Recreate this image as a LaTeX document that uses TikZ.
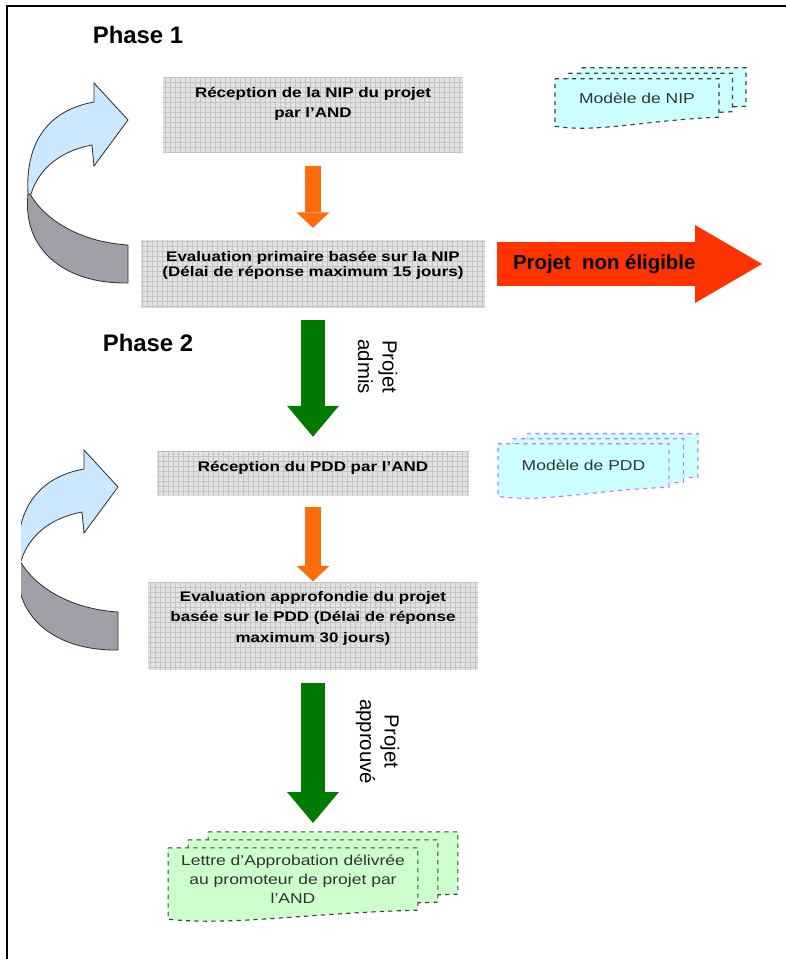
\documentclass[tikz,border=0pt]{standalone}
\usepackage{fontspec}
\setmainfont{Liberation Sans}
\newfontfamily\etirefont[FakeStretch=1.22]{Liberation Sans}
\usetikzlibrary{arrows.meta,calc,backgrounds}

\definecolor{grille}{RGB}{196,196,196}
\definecolor{fondgris}{RGB}{226,226,226}
\definecolor{orangeF}{RGB}{255,108,12}
\definecolor{vertF}{RGB}{0,122,0}
\definecolor{rougeF}{RGB}{255,51,0}
\definecolor{bleuC}{RGB}{204,232,255}
\definecolor{grisB}{RGB}{160,160,168}
\definecolor{cyanC}{RGB}{204,255,255}
\definecolor{vertC}{RGB}{204,255,204}
\definecolor{violetP}{RGB}{200,120,255}

\tikzset{
    phase/.style={font=\bfseries\fontsize{17}{20}\selectfont},
    etape/.style={fill=fondgris, align=center, inner sep=0pt,
        font=\etirefont\bfseries\fontsize{9.9}{14.5}\selectfont,
        path picture={\draw[grille, line width=0.3pt, step=3.55pt]
            (path picture bounding box.south west) grid (path picture bounding box.north east);}},
    modele/.style={align=center, inner sep=0pt, text=black!80,
        font=\etirefont\fontsize{10.2}{13.5}\selectfont},
    libelle/.style={align=center, font=\fontsize{14.5}{17.5}\selectfont},
    boucle/.style={draw=black!80, line width=0.6pt},
    fleche orange/.style={draw=orangeF, line width=12pt,
        -{Triangle[width=23.4pt, length=11pt, line width=0pt]}},
    fleche verte/.style={draw=vertF, line width=17.7pt,
        -{Triangle[width=36.9pt, length=22pt, line width=0pt]}},
    fleche rouge/.style={draw=rougeF, line width=31.9pt,
        -{Triangle[width=55.3pt, length=47.5pt, line width=0pt]}}
}

% pile de documents derriere un noeud
\newcommand{\pile}[4]{%
    \begin{scope}[on background layer]
        \foreach \k in {2,1,0}
            \draw[#3, dashed, line width=0.8pt, fill=#2]
                ($(#1.north west)+\k*(#4)$) -- ($(#1.north east)+\k*(#4)$)
                -- ($(#1.south east)+\k*(#4)$)
                .. controls ($(#1.south east)!0.45!(#1.south west)+(0,3)+\k*(#4)$)
                and ($(#1.south east)!0.75!(#1.south west)+(0,16)+\k*(#4)$)
                .. ($(#1.south west)+(0,9)+\k*(#4)$) -- cycle;
    \end{scope}}

% fleche courbe a gauche
\newcommand{\boucle}[1]{%
    \begin{scope}[shift={#1}]
        \draw[boucle, fill=grisB] (30,194) .. controls (45,220) and (80,242) .. (128,245)
            -- (128,283) .. controls (65,284) and (22,250) .. (28,194) -- cycle;
        \draw[boucle, fill=bleuC] (31,194) .. controls (40,165) and (65,150) .. (92,145)
            -- (94,166) -- (128,120) -- (94,83) -- (94,102)
            .. controls (50,110) and (25,140) .. (28,194) -- cycle;
    \end{scope}}

\begin{document}
\begin{tikzpicture}[x=0.025cm, y=-0.025cm]

    \useasboundingbox (0,0) rectangle (786,959);
    \draw[line width=1.1pt] (7,959) -- (7,6) -- (786,6);

    \node[phase] (ph1) at (138,35) {Phase 1};
    \node[phase] (ph2) at (148,343) {Phase 2};

    \node[etape, minimum width=213.3pt, minimum height=53.9pt, text depth=18pt] (nip) at (313,115)
        {Réception de la NIP du projet\\par l’AND};
    \node[etape, minimum width=244.5pt, minimum height=48.2pt, text depth=14pt,
        font=\etirefont\bfseries\fontsize{9.9}{10.5}\selectfont] (eval1) at (313,274)
        {Evaluation primaire basée sur la NIP\\(Délai de réponse maximum 15 jours)};
    \node[etape, minimum width=221.8pt, minimum height=31.9pt, text depth=10pt] (pdd) at (313,473.5)
        {Réception du PDD par l’AND};
    \node[etape, minimum width=234.6pt, minimum height=63.1pt, text depth=13pt] (eval2) at (313,626)
        {Evaluation approfondie du projet\\basée sur le PDD (Délai de réponse\\maximum 30 jours)};

    \node[modele, minimum width=116.2pt, minimum height=26.9pt] (docnip) at (637,98) {Modèle de NIP};
    \node[modele, minimum width=121.2pt, minimum height=30.5pt] (docpdd) at (583.5,465.5) {Modèle de PDD};
    \node[modele, minimum width=177.2pt, minimum height=43.9pt] (lettre) at (293,879)
        {Lettre d’Approbation délivrée\\au promoteur de projet par\\l’AND};
    \pile{docnip}{cyanC}{black!75}{13.5,-5.5}
    \pile{docpdd}{cyanC}{violetP}{14.5,-5}
    \pile{lettre}{vertC}{black!75}{20,-8}

    \boucle{(0,0)}
    \begin{scope}
        \clip (21,0) rectangle (786,959);
        \boucle{(-10,367)}
    \end{scope}

    \coordinate (rejet) at (762,264);

    \draw[fleche orange, shorten <=9.2pt, shorten >=8.5pt] (nip) -- (eval1);
    \draw[fleche orange, shorten <=7.8pt] (pdd) -- (eval2);
    \draw[fleche verte, shorten <=8.5pt, shorten >=10pt] (eval1) -- (pdd)
        node[libelle, pos=0.41, xshift=46pt, rotate=-90] {Projet\\admis};
    \draw[fleche verte, shorten <=8.5pt, shorten >=17.7pt] (eval2) -- (eval2 |- lettre.north)
        node[libelle, pos=0.4, xshift=46pt, rotate=-90] {Projet\\approuvé};
    \draw[fleche rouge, shorten <=8.2pt] (eval1.east |- rejet) -- (rejet)
        node[pos=0.43, font=\bfseries\fontsize{14.5}{17}\selectfont] {Projet~ non éligible};

\end{tikzpicture}
\end{document}
